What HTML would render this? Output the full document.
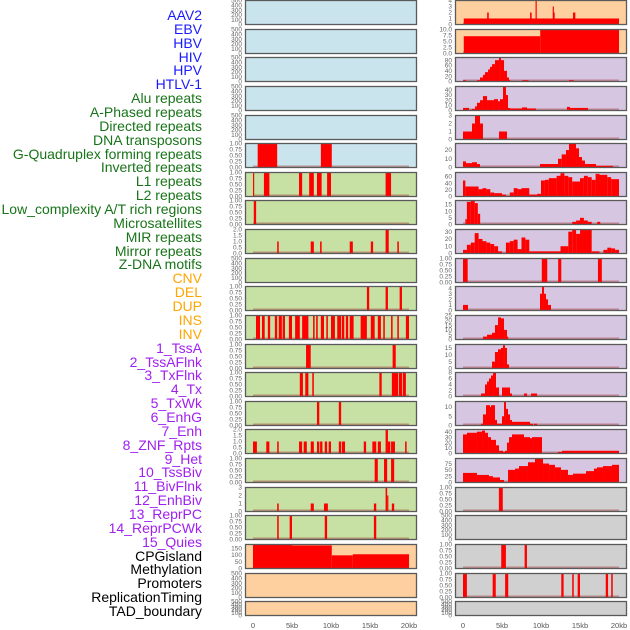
<!DOCTYPE html>
<html><head><meta charset="utf-8">
<style>
html,body{margin:0;padding:0;background:#fff;}
#wrap{position:relative;width:630px;height:630px;overflow:hidden;}
.lbl{position:absolute;right:428px;font:14px "Liberation Sans",sans-serif;line-height:14px;white-space:nowrap;}
svg{position:absolute;left:0;top:0;}
</style></head>
<body>
<div id="wrap">
<div id="labels"></div>
<svg id="chart" width="630" height="630"></svg>
</div>
<script>
// ---- track labels ----
const labelNames = ["AAV2","EBV","HBV","HIV","HPV","HTLV-1","Alu repeats","A-Phased repeats","Directed repeats","DNA transposons","G-Quadruplex forming repeats","Inverted repeats","L1 repeats","L2 repeats","Low_complexity A/T rich regions","Microsatellites","MIR repeats","Mirror repeats","Z-DNA motifs","CNV","DEL","DUP","INS","INV","1_TssA","2_TssAFlnk","3_TxFlnk","4_Tx","5_TxWk","6_EnhG","7_Enh","8_ZNF_Rpts","9_Het","10_TssBiv","11_BivFlnk","12_EnhBiv","13_ReprPC","14_ReprPCWk","15_Quies","CPGisland","Methylation","Promoters","ReplicationTiming","TAD_boundary"];
const labelGroups = [6,13,5,15,5];
const groupColors = ["#1a1aff","#187418","#ffa500","#a020f0","#000000"];

// ---- x axis ----
const xTicks = [0,5,10,15,20];
const xTickLabels = ["0","5kb","10kb","15kb","20kb"];

// ---- panel backgrounds ----
const leftBg = ["b","b","b","b","b","b","g","g","g","g","g","g","g","g","g","g","g","g","g","o","o","o"];
const rightBg = ["o","o","p","p","p","p","p","p","p","p","p","p","p","p","p","p","p","x","x","x","x","x"];

// ---- y axis max per panel ----
const leftYmax = [500,500,500,500,500,1,1,1,2,500,1,1,1,1,1,2,1,3,1,177,500,500];
const rightYmax = [4,10,90,46.6,3,27.5,72,18,33,1,4.3,25,17.5,8,13,44,95,1,500,1,1,500];

// ---- y tick labels per panel ----
const T500 = ["0","100","200","300","400","500"];
const T1 = ["0.00","0.25","0.50","0.75","1.00"];
const T2 = ["0.0","0.5","1.0","1.5","2.0"];
const leftTicks = [T500,T500,T500,T500,T500,T1,T1,T1,T2,T500,T1,T1,T1,T1,T1,T2,T1,["0","1","2","3"],T1,["0","50","100","150"],T500,T500];
const rightTicks = [["0","1","2","3","4"],["0.0","2.5","5.0","7.5","10.0"],["0","20","40","60","80"],["0","10","20","30","40"],["0","1","2","3"],["0","10","20"],["0","20","40","60"],["0","5","10","15"],["0","10","20","30"],T1,["0","1","2","3","4"],["0","5","10","15","20","25"],["0","5","10","15"],["0","2","4","6","8"],["0","5","10"],["0","10","20","30","40"],["0","25","50","75"],T1,T500,T1,T1,T500];

// ---- series: [startKb, endKb, value] ----
const leftSegs = [
 [],[],[],[],[],
 [[0.6,3.1,1],[8.7,10.1,1]],
 [[0,0.15,1],[1.4,2.1,1],[5.9,6.3,1],[7.2,7.8,1],[8.2,8.8,1],[9.5,10,1],[17,17.7,1]],
 [[0.1,0.4,1]],
 [[3.1,3.3,1],[7.4,7.8,1],[8.6,8.8,1],[12.4,12.8,1],[15.1,15.4,1],[17,17.4,2],[18.5,18.7,1]],
 [],
 [[14.6,14.9,1],[17,17.3,1],[18.8,19.1,1]],
 [[0.38,0.9,1],[1.15,1.5,1],[1.9,2.2,1],[2.8,3.1,1],[3.3,3.7,1],[3.8,4.1,1],[4.6,5.0,1],[5.4,6.0,1],[6.3,7.1,1],[7.7,7.9,1],[8.1,8.3,1],[8.7,9.1,1],[9.4,9.6,1],[10.0,10.5,1],[10.8,11.3,1],[11.4,11.7,1],[11.9,12.2,1],[12.4,12.9,1],[13.8,14.6,1],[15.1,15.6,1],[16.0,16.4,1],[16.7,16.9,1],[17.7,17.9,1],[18.5,18.7,1],[19.6,20.0,1]],
 [[6.8,7.4,1],[17.9,18.3,1]],
 [[6,6.4,1],[6.7,7.1,1],[7.6,7.8,1],[16.2,16.5,1],[17.8,18.6,1],[18.7,19.1,1],[19.2,19.6,1]],
 [[8.2,8.5,1],[11,11.3,1]],
 [[0,0.5,1],[1.7,2.1,1],[3.1,3.3,1],[5.9,6.3,1],[6.5,6.9,1],[7.4,7.8,1],[8.2,8.5,1],[8.6,8.9,1],[9.2,9.5,1],[9.7,10,1],[11,11.3,1],[11.4,11.8,1],[14.2,14.5,1],[15.3,15.8,1],[16,16.4,1],[17,17.3,2],[17.3,17.6,1],[17.7,18.2,1],[19.5,19.7,1]],
 [[15.6,16,1],[16.8,17.2,1],[17.7,18.1,1]],
 [[3.1,3.3,1],[7.4,7.8,1],[9.1,9.6,1],[15.5,15.8,1],[17,17.2,3],[17.2,17.3,2],[17.8,18.1,1]],
 [[3.1,3.3,1],[4.7,5,1],[9.2,9.5,1],[15.5,15.8,1]],
 [[0,5,175],[5,10.1,170],[10.1,12.8,97],[12.8,20,105]],
 [],[]
];
const rightSegs = [
 [[0.1,20,1],[3.1,3.3,2],[8.6,8.8,2],[9.3,9.4,4],[11.5,11.6,3],[11.6,11.7,2],[14.1,14.4,2]],
 [[0.1,9.9,7.2],[9.9,20,10]],
 [[0,0.4,5],[1.79,2.18,5],[2.18,2.56,15],[2.56,2.82,25],[2.82,3.21,35],[3.21,3.46,45],[3.46,3.72,55],[3.72,4.10,65],[4.10,4.62,80],[4.62,4.87,90],[4.87,5.26,80],[5.26,5.64,40],[5.64,5.90,15],[5.90,6.03,5],[7.6,8.4,5],[13.6,14.2,5]],
 [[0,0.77,5],[1.15,1.54,3],[1.54,1.79,8],[1.79,2.18,15],[2.18,2.56,20],[2.56,3.08,28],[3.08,3.97,20],[3.97,4.49,22],[4.49,4.74,18],[4.74,5.13,22],[5.13,5.51,46],[5.51,5.77,30],[5.77,6.03,5],[6.03,7.56,4],[7.56,8.21,6],[8.21,9.36,4],[13.33,13.72,7],[13.72,16.03,5]],
 [[0,1.15,1],[1.15,1.54,2],[1.54,2.18,3],[2.18,2.56,2],[4.62,5.64,1]],
 [[0,0.38,7],[0.38,1.15,5],[1.15,1.79,6],[1.79,2.18,4],[9.87,12.18,4],[12.18,12.65,10],[12.65,13.2,15],[13.2,13.59,20],[13.59,14.49,27],[14.49,14.87,22],[14.87,15.26,12],[15.26,15.64,8],[15.64,17.05,4],[17.05,19.23,2]],
 [[0,0.3,48],[0.3,2,30],[2,2.5,22],[2.5,3,25],[3,3.5,22],[3.5,4,12],[4,5,10],[5,5.5,6],[5.5,6,1],[6,6.5,12],[6.5,7,25],[7,7.5,22],[7.5,8.5,25],[8.5,9.5,6],[9.5,10,8],[10,10.5,48],[10.5,11,50],[11,12,55],[12,12.5,62],[12.5,13,70],[13,13.5,62],[13.5,14,58],[14,15,45],[15,15.5,55],[15.5,16,62],[16,16.5,58],[16.5,17,50],[17,17.5,68],[17.5,18.5,65],[18.5,19,58],[19,20,52]],
 [[0.3,0.5,4],[0.5,1,17],[1,1.5,18],[1.5,1.9,16],[1.9,2.2,8],[14,14.5,2],[14.5,15,3],[15,15.5,5],[15.5,16,3],[16,16.5,2],[17.2,17.6,2]],
 [[0,0.5,5],[0.5,1,12],[1,1.5,15],[1.5,2,28],[2,2.5,20],[2.5,3,17],[3,3.5,15],[3.5,4,13],[4,4.5,10],[4.5,5,3],[5.5,6,15],[6,6.5,17],[6.5,7,19],[7,7.5,6],[7.5,8,22],[8,8.5,19],[8.5,12.5,3],[12.5,13.5,10],[13.5,14,30],[14,14.5,33],[14.5,15,27],[15,16.5,33],[16.5,17.5,3],[18,18.5,5],[18.5,19,8],[19,19.5,7],[19.5,20,5]],
 [[0,0.6,1],[10.1,10.8,1],[12.2,12.6,1],[17.3,17.8,1]],
 [[0,0.64,1],[9.87,10.13,3],[10.13,10.38,4.3],[10.38,10.64,3],[10.64,10.9,2],[10.9,11.28,1]],
 [[2.56,3.08,3],[3.08,3.72,5],[3.72,4.10,7],[4.10,4.49,15],[4.49,4.87,23],[4.87,5.26,22],[5.26,5.64,10],[5.64,5.77,3]],
 [[3.72,4.1,5],[4.1,4.49,12],[4.49,4.87,14],[4.87,5.13,15],[5.13,5.38,17],[5.38,5.64,15],[5.64,5.9,3]],
 [[2.31,2.82,1],[2.82,3.08,4],[3.08,3.33,5],[3.33,3.59,6],[3.59,3.85,7],[3.85,4.23,8],[4.23,4.62,3],[5.0,6.03,3],[6.03,6.28,1],[7.82,8.21,1],[8.72,9.49,1]],
 [[2.31,2.56,1],[2.56,2.95,6],[2.95,3.46,11],[3.46,3.59,10],[3.59,4.10,11],[4.10,4.36,3],[4.36,5.0,1],[5.0,5.26,5],[5.26,5.51,13],[5.51,5.77,9],[5.77,6.03,6],[6.03,6.28,3],[6.28,8.59,2],[8.59,8.97,1],[9.1,9.49,1]],
 [[0,0.51,35],[0.51,1.79,38],[1.79,2.44,40],[2.44,2.82,42],[2.82,3.21,38],[3.21,3.59,30],[3.59,4.23,25],[4.23,4.62,15],[4.62,5.13,5],[5.13,5.38,3],[5.38,5.64,5],[5.64,5.9,20],[5.9,6.28,30],[6.28,7.82,35],[7.82,8.59,30],[8.59,8.85,28],[8.85,10.13,30],[10.13,12.18,1],[12.18,12.69,3],[12.69,20,5]],
 [[0,1.79,38],[1.79,3.33,30],[3.33,3.85,25],[3.85,4.74,20],[4.74,5.26,10],[5.26,5.77,2],[5.77,6.67,50],[6.67,7.18,55],[7.18,8.33,65],[8.33,9.23,80],[9.23,10.26,95],[10.26,11.03,75],[11.03,11.79,70],[11.79,12.56,60],[12.56,13.46,50],[13.46,14.1,30],[14.1,15.77,35],[15.77,16.79,45],[16.79,17.18,55],[17.18,17.95,60],[17.95,19.1,65],[19.1,20,70]],
 [[4.6,5.1,1]],
 [],
 [[4.9,5.5,1],[7.9,8.2,1]],
 [[0,0.5,1],[3.8,4.2,1],[5.4,5.8,1],[12.6,12.9,1],[14,14.2,1],[14.7,15,1],[18.3,18.6,1],[19,19.2,1]],
 []
];

const bgColors = {b:"#c9e4ec", g:"#c7e1a5", o:"#fed09f", p:"#d6c6e1", x:"#d0d0d0"};
const NS = "http://www.w3.org/2000/svg";
const svg = document.getElementById("chart");

// labels
const labDiv = document.getElementById("labels");
let gi = 0, gc = 0;
labelNames.forEach((n, i) => {
  while (gc >= labelGroups[gi]) { gi++; gc = 0; }
  gc++;
  const d = document.createElement("div");
  d.className = "lbl";
  d.style.top = (8 + i * 13.86) + "px";
  d.style.color = groupColors[gi];
  d.textContent = n;
  
  
  labDiv.appendChild(d);
});

function mk(tag, attrs) {
  const e = document.createElementNS(NS, tag);
  for (const k in attrs) e.setAttribute(k, attrs[k]);
  return e;
}

function xScale(col, kb) { return (col === 0 ? 253 : 463) + kb * 7.8; }

function drawPanel(col, i, bgKey, ymax, ticks, segs) {
  const top = Math.round(i * 28.63) + 0.5;
  const h = i === 21 ? 14 : 24;
  const left = col === 0 ? 245.5 : 455.5;
  const bottom = top + h;
  const yScale = v => bottom - (v / ymax) * h;
  const g = mk("g", {});
  
  
  g.appendChild(mk("rect", {x:left, y:top, width:171, height:h, fill:bgColors[bgKey]}));
  if (segs.length) {
    const base = mk("rect", {x:xScale(col,0), y:bottom-2, width:xScale(col,20)-xScale(col,0), height:2, fill:"rgba(160,50,50,0.45)"});
    
    
    g.appendChild(base);
  }
  segs.forEach(s => {
    const x0 = xScale(col, s[0]), x1 = xScale(col, s[1]);
    const y = yScale(s[2]);
    const r = mk("rect", {x:x0, y:y, width:Math.max(1.2, x1 - x0), height:bottom - y, fill:"#ff0000"});
    
    
    g.appendChild(r);
  });
  g.appendChild(mk("rect", {x:left, y:top, width:171, height:h, fill:"none", stroke:"#5a5a5a", "stroke-width":1.3}));
  const n = ticks.length;
  const tmax = parseFloat(ticks[n-1]);
  ticks.forEach(t => {
    const v = parseFloat(t);
    const tx = mk("text", {x:left - 3.5, y:yScale(v) + 2.2, "font-size":6.5, fill:"#666", "text-anchor":"end", "font-family":"Liberation Sans, sans-serif"});
    tx.textContent = t;
    
    
    g.appendChild(tx);
  });
  svg.appendChild(g);
}

for (let i = 0; i < 22; i++) {
  drawPanel(0, i, leftBg[i], leftYmax[i], leftTicks[i], leftSegs[i]);
  drawPanel(1, i, rightBg[i], rightYmax[i], rightTicks[i], rightSegs[i]);
}

[0,1].forEach(col => {
  xTicks.forEach((k, j) => {
    const t = mk("text", {x:xScale(col,k), y:628, "font-size":7.5, fill:"#555", "text-anchor":"middle", "font-family":"Liberation Sans, sans-serif"});
    t.textContent = xTickLabels[j];
    
    
    svg.appendChild(t);
  });
});
</script>
</body></html>
